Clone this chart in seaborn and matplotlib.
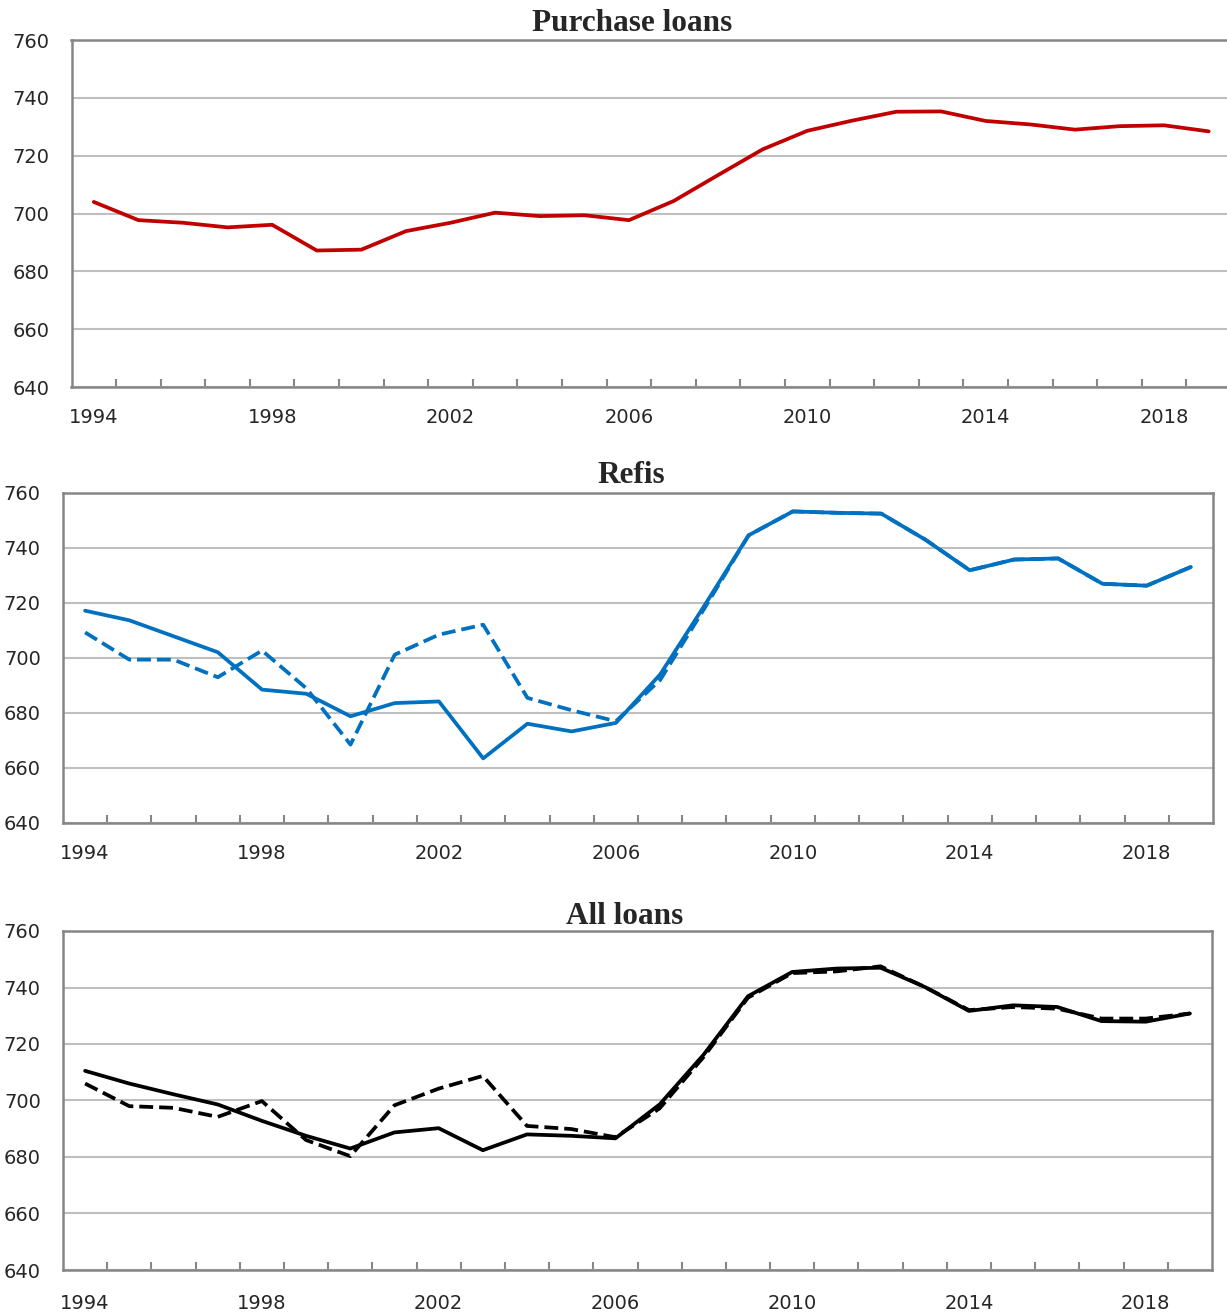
import numpy as np
import pandas as pd
import matplotlib
matplotlib.use("Agg")
import matplotlib.pyplot as plt
import seaborn as sns

years = list(range(1994, 2020))

purchase = [704, 697.7, 696.8, 695.2, 696.1, 687.2, 687.5, 693.9, 696.8, 700.3,
            699.1, 699.4, 697.7, 704.3, 713.3, 722.2, 728.6, 732.1, 735.2, 735.3,
            732.0, 730.8, 729.0, 730.2, 730.5, 728.4]

refis_solid = [717.2, 713.7, 707.9, 702.1, 688.5, 687.0, 678.8, 683.6, 684.2, 663.5,
               676.1, 673.3, 676.4, 694.0, 719.0, 744.6, 753.3, 752.8, 752.5, 743.0,
               731.9, 735.8, 736.2, 727.0, 726.3, 733.1]
refis_dashed = [709.3, 699.4, 699.4, 693.0, 702.7, 689.0, 668.5, 701.2, 708.5, 712.1,
                685.5, 681.0, 677.0, 692.0, 718.0, 744.6, 753.3, 752.8, 752.5, 743.0,
                731.9, 735.8, 736.2, 727.0, 726.3, 733.1]

all_solid = [710.5, 706.0, 702.2, 698.6, 692.8, 687.5, 683.0, 688.7, 690.2, 682.4,
             688.0, 687.5, 686.6, 698.6, 716.3, 736.9, 745.5, 746.7, 747.0, 740.2,
             731.7, 733.7, 733.1, 728.1, 727.9, 730.8]
all_dashed = [706.0, 698.0, 697.4, 694.2, 699.8, 686.0, 680.3, 698.3, 704.2, 708.7,
              691.0, 689.9, 687.0, 697.2, 715.5, 736.4, 745.1, 745.7, 747.5, 740.2,
              732.0, 733.1, 732.5, 729.0, 729.0, 730.8]

titles = ["Purchase loans", "Refis", "All loans"]
y_ticks = [640, 660, 680, 700, 720, 740, 760]
x_labels = [1994, 1998, 2002, 2006, 2010, 2014, 2018]

sns.set_style("white")
plt.rcParams['font.family'] = ['DejaVu Sans']

W, H = 1227, 1315
fig = plt.figure(figsize=(W / 100, H / 100), dpi=100)

# axes boxes in pixels: left, top, right, bottom
boxes = [(71.5, 40, 1231, 387), (63, 493, 1213, 823), (63, 931, 1212, 1270)]
title_pos = [(632, 31), (631, 483), (625, 924)]
x_pads = [15, 15, 17]

grid_col = "#BFBFBF"
spine_col = "#868686"

panels = [
    [(purchase, "#C00000", "-")],
    [(refis_solid, "#0070C0", "-"), (refis_dashed, "#0070C0", "--")],
    [(all_solid, "black", "-"), (all_dashed, "black", "--")],
]

for i, (box, series) in enumerate(zip(boxes, panels)):
    l, t, r, b = box
    ax = fig.add_axes([l / W, 1 - b / H, (r - l) / W, (b - t) / H])
    for vals, col, ls in series[::-1]:
        sns.lineplot(x=years, y=vals, ax=ax, color=col, linestyle=ls, linewidth=2.7)
    ax.set_xlim(1993.5, 2019.5)
    ax.set_ylim(640, 760)
    ax.set_yticks(y_ticks)
    ax.set_xticks(x_labels)
    ax.set_xticks(np.arange(1994.5, 2019, 1), minor=True)
    ax.tick_params(axis='x', which='major', length=0, pad=x_pads[i], labelsize=14)
    ax.tick_params(axis='x', which='minor', direction='in', length=6, width=1.5,
                   color=spine_col, bottom=True)
    ax.tick_params(axis='y', length=0, pad=16, labelsize=14)
    ax.grid(axis='y', color=grid_col, linewidth=1.5)
    ax.set_axisbelow(True)
    for s in ax.spines.values():
        s.set_color(spine_col)
        s.set_linewidth(1.8)
    ax.set_xlabel("")
    ax.set_ylabel("")
    tx, ty = title_pos[i]
    fig.text(tx / W, 1 - ty / H, titles[i], ha='center', va='baseline',
             fontsize=22.5, fontweight='bold', family='Liberation Serif')

fig.savefig("out.png", dpi=100)
